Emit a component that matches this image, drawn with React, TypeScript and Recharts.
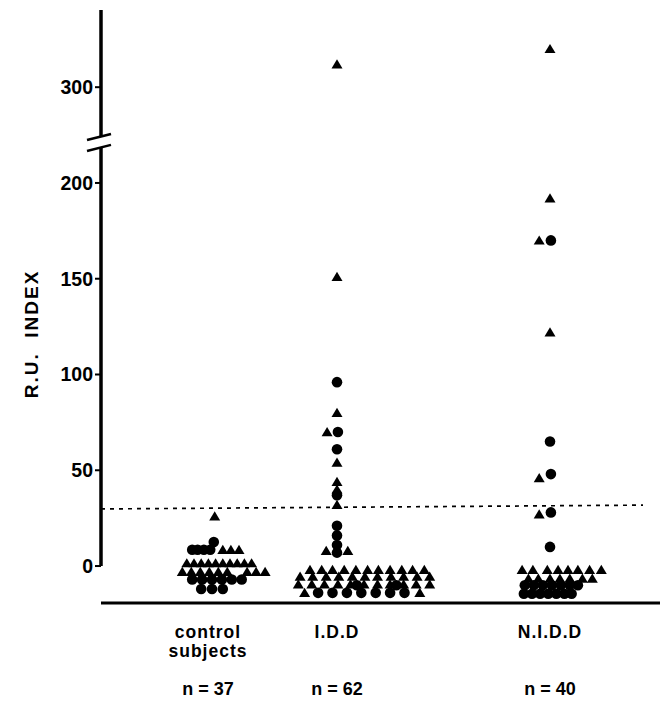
import { ScatterChart, Scatter, XAxis, YAxis, ReferenceLine, Label } from "recharts";

// categories along the bottom
const groupLabels = [["control", "subjects"], ["I.D.D"], ["N.I.D.D"]];
const groupCounts = ["n = 37", "n = 62", "n = 40"];
const groupCenters = [111, 236, 449]; // x units (0..559)

// y axis
const yTicks = [0, 50, 100, 150, 200, 300];
const breakShift = 50; // values above the break are drawn 50 units lower
const upperLimit = [29.8, 31.8]; // dashed line, left and right end

// rows of markers: [R.U. index, dodge slots]
type Row = [number, number[]];

const controlTriangles: Row[] = [
  [26, [0.3]],
  [8.5, [1.2, 2.1, 3.0]],
  [1.5, [-2.8, -2.0, -1.2, -0.4, 0.4, 1.2, 2.0, 2.8, 3.6, 4.4]],
  [-3, [-3.3, -2.3, -1.3, -0.3, 0.7, 1.7, 3.9, 4.9, 5.9]],
];
const controlCircles: Row[] = [
  [12.5, [0.2]],
  [8.5, [-2.2, -1.6, -0.9, -0.2]],
  [-7, [-2.2, -1.1, 0, 1.1, 2.2, 3.3]],
  [-12, [-1.2, 0, 1.2]],
];

const iddTriangles: Row[] = [
  [312, [0]],
  [151, [0]],
  [80, [0]],
  [70, [-1.1]],
  [54, [0]],
  [44, [0]],
  [40, [0]],
  [32, [0]],
  [8, [-1.2, 1.2]],
  [-2, [-3, -1.7, -0.5, 0.8, 2.1, 3.4, 4.6, 5.9, 7.2, 8.4, 9.7]],
  [-5.5, [-4.1, -2.7, -1.2, 0.2, 1.7, 3.1, 4.5, 6.0, 7.4, 8.9, 10.3]],
  [-9.5, [-4.3, -2.8, -1.4, 0.1, 1.5, 3.0, 4.5, 5.9, 7.4, 8.8, 10.3]],
  [-14, [-3.6, 9.2]],
];
const iddCircles: Row[] = [
  [96, [0]],
  [70, [0.1]],
  [61, [0]],
  [37, [0]],
  [21, [0]],
  [16, [0]],
  [11, [0]],
  [7, [0]],
  [-10, [2.2, 6.6]],
  [-14, [-2.1, -0.5, 1.1, 2.7, 4.3, 5.9, 7.5]],
];

const niddTriangles: Row[] = [
  [320, [0]],
  [192, [0]],
  [170, [-1.2]],
  [122, [0]],
  [46, [-1.2]],
  [27, [-1.2]],
  [-2, [-3.1, -1.9, -0.3, 0.9, 2.0, 3.1, 4.4, 5.7]],
  [-6.5, [-2.4, -1.3, 0, 1.1, 2.2, 3.6, 4.7]],
];
const niddCircles: Row[] = [
  [170, [0.1]],
  [65, [0]],
  [48, [0.1]],
  [28, [0.1]],
  [10, [0]],
  [-10, [-2.8, -1.8, -0.8, 0.2, 1.2, 2.2, 3.1]],
  [-14.5, [-2.9, -2.0, -1.1, -0.2, 0.7, 1.6, 2.4]],
];

const SLOT = 9;
const font = "'Liberation Sans', Arial, Helvetica, sans-serif";

const toPlot = (v: number) => (v > 250 ? v - breakShift : v);

const toPoints = (rows: Row[], group: number) =>
  rows.flatMap(([v, slots]) =>
    slots.map((s) => ({ x: groupCenters[group] + s * SLOT, y: toPlot(v), value: v }))
  );

const triangles = [
  ...toPoints(controlTriangles, 0),
  ...toPoints(iddTriangles, 1),
  ...toPoints(niddTriangles, 2),
];
const circles = [
  ...toPoints(controlCircles, 0),
  ...toPoints(iddCircles, 1),
  ...toPoints(niddCircles, 2),
];

const Triangle = (props: any) => {
  const { cx, cy } = props;
  return (
    <polygon
      points={`${cx},${cy - 5} ${cx - 5.5},${cy + 4.2} ${cx + 5.5},${cy + 4.2}`}
      fill="#000"
    />
  );
};

const Dot = (props: any) => <circle cx={props.cx} cy={props.cy} r={5.3} fill="#000" />;

const labelShift = [-4, 0, 0];

const CategoryTick = (props: any) => {
  const { x, payload } = props;
  const i = groupCenters.indexOf(payload.value);
  if (i < 0) return null;
  const cx = x + labelShift[i];
  return (
    <g fontFamily={font} fontWeight={700} fill="#000" textAnchor="middle">
      {groupLabels[i].map((line, k) => (
        <text key={k} x={cx} y={638 + k * 19} fontSize={17.5} letterSpacing={1}>
          {line}
        </text>
      ))}
      <text x={cx} y={695} fontSize={18}>
        {groupCounts[i]}
      </text>
    </g>
  );
};

const axisStroke = { stroke: "#000", strokeWidth: 3.5 };

export default function App() {
  return (
    <div style={{ position: "absolute", left: 0, top: 0, width: 662, height: 701, background: "#fff" }}>
      <ScatterChart width={662} height={701} margin={{ top: 10, right: 2, bottom: 0, left: 0 }}>
        <XAxis
          type="number"
          dataKey="x"
          domain={[0, 559]}
          ticks={groupCenters}
          interval={0}
          allowDataOverflow
          tickLine={false}
          axisLine={{ stroke: "#000", strokeWidth: 3 }}
          tick={<CategoryTick />}
          height={98}
        />
        <YAxis
          type="number"
          dataKey="y"
          domain={[-19.3, 290.3]}
          allowDataOverflow
          ticks={yTicks.map(toPlot)}
          interval={0}
          tickFormatter={(t: number) => String(t > 200 ? t + breakShift : t)}
          width={101}
          axisLine={false}
          tickSize={6}
          tickLine={{ stroke: "#000", strokeWidth: 2 }}
          tick={{ fill: "#000", fontSize: 19.5, fontWeight: 700, fontFamily: font }}
        >
          <Label
            content={() => (
              <text
                x={31}
                y={334}
                transform="rotate(-90 31 334)"
                textAnchor="middle"
                dominantBaseline="central"
                fontFamily={font}
                fontSize={19}
                fontWeight={700}
                letterSpacing={2}
                fill="#000"
              >
                {"R.U.\u00a0 INDEX"}
              </text>
            )}
          />
        </YAxis>

        {/* broken y axis */}
        <ReferenceLine segment={[{ x: 0, y: 0 }, { x: 0, y: 218.3 }]} {...axisStroke} ifOverflow="visible" />
        <ReferenceLine segment={[{ x: 0, y: 224 }, { x: 0, y: 290.3 }]} {...axisStroke} ifOverflow="visible" />
        <ReferenceLine segment={[{ x: -14, y: 222.4 }, { x: 10, y: 225.6 }]} stroke="#000" strokeWidth={2.5} ifOverflow="visible" />
        <ReferenceLine segment={[{ x: -14, y: 216.7 }, { x: 10, y: 219.9 }]} stroke="#000" strokeWidth={2.5} ifOverflow="visible" />

        <ReferenceLine
          segment={[{ x: 0, y: upperLimit[0] }, { x: 542, y: upperLimit[1] }]}
          stroke="#000"
          strokeWidth={1.7}
          strokeDasharray="4 5"
          ifOverflow="visible"
        />

        <Scatter data={triangles} shape={Triangle} isAnimationActive={false} />
        <Scatter data={circles} shape={Dot} isAnimationActive={false} />
      </ScatterChart>
    </div>
  );
}
